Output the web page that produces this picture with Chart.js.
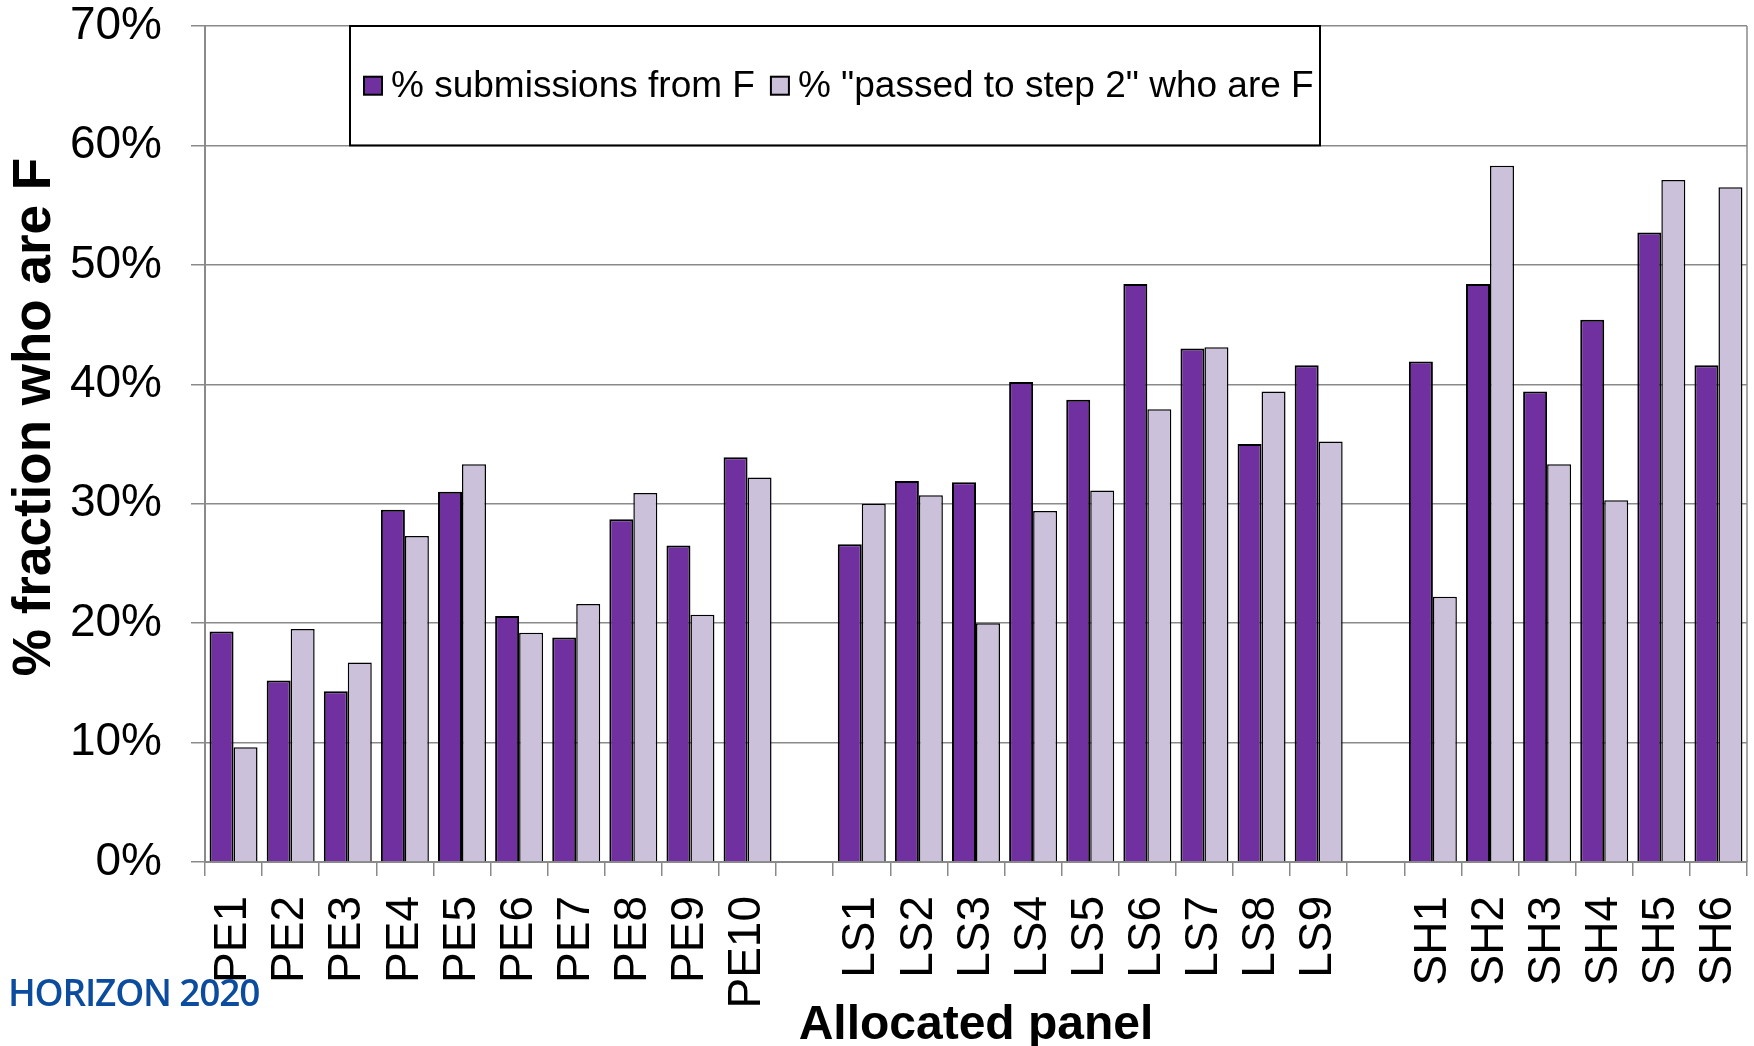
<!DOCTYPE html>
<html>
<head>
<meta charset="utf-8">
<script src="https://cdn.jsdelivr.net/npm/chart.js@4.4.1/dist/chart.umd.min.js"></script>
<style>
  html, body { margin: 0; padding: 0; background: #fff; }
  #wrap { position: relative; width: 1754px; height: 1046px; }
  #logo { position: absolute; left: 8px; top: 966px; font-family: "Open Sans", "Noto Sans", sans-serif; font-weight: 600; font-size: 37px; color: #0b4c9e; letter-spacing: -1.2px; white-space: nowrap; }
</style>
</head>
<body>
<div id="wrap">
  <canvas id="c" width="1754" height="1046"></canvas>
  <div id="logo">HORIZON 2020</div>
</div>
<script>
const categories = ['PE1','PE2','PE3','PE4','PE5','PE6','PE7','PE8','PE9','PE10','',
  'LS1','LS2','LS3','LS4','LS5','LS6','LS7','LS8','LS9','',
  'SH1','SH2','SH3','SH4','SH5','SH6'];
const submissionsF = [19.3, 15.2, 14.3, 29.5, 31.0, 20.6, 18.8, 28.7, 26.5, 33.9, null,
  26.6, 31.9, 31.8, 40.2, 38.7, 48.4, 43.0, 35.0, 41.6, null,
  41.9, 48.4, 39.4, 45.4, 52.7, 41.6];
const passedStep2F = [9.6, 19.5, 16.7, 27.3, 33.3, 19.2, 21.6, 30.9, 20.7, 32.2, null,
  30.0, 30.7, 20.0, 29.4, 31.1, 37.9, 43.1, 39.4, 35.2, null,
  22.2, 58.3, 33.3, 30.3, 57.1, 56.5];
const seriesLabels = ['% submissions from F', '% "passed to step 2" who are F'];
const yTicks = [0, 10, 20, 30, 40, 50, 60, 70];
const yTitle = '% fraction who are F';
const xTitle = 'Allocated panel';

const FONT = '"Liberation Sans", Arial, sans-serif';
const GRID = '#8a8a8a';

const boxLegend = {
  id: 'boxLegend',
  afterDraw(chart) {
    const ctx = chart.ctx;
    const ca = chart.chartArea;
    const y = chart.scales.y;
    ctx.save();
    // right border of plot area
    ctx.strokeStyle = GRID;
    ctx.lineWidth = 1.5;
    ctx.beginPath();
    ctx.moveTo(ca.right, ca.top);
    ctx.lineTo(ca.right, ca.bottom);
    ctx.stroke();
    // legend box
    const bx = ca.left + 145, bw = 970;
    const by = ca.top, bh = y.getPixelForValue(60) - ca.top;
    ctx.fillStyle = '#fff';
    ctx.fillRect(bx, by, bw, bh);
    ctx.strokeStyle = '#000';
    ctx.lineWidth = 2;
    ctx.strokeRect(bx, by, bw, bh);
    ctx.font = '37px ' + FONT;
    ctx.textBaseline = 'middle';
    ctx.textAlign = 'left';
    const cy = by + bh / 2;
    let x = bx + 14;
    chart.data.datasets.forEach((ds) => {
      const s = 18;
      ctx.fillStyle = ds.backgroundColor;
      ctx.fillRect(x, cy - s / 2, s, s);
      ctx.strokeStyle = '#000';
      ctx.lineWidth = 2;
      ctx.strokeRect(x, cy - s / 2, s, s);
      x += s + 9;
      ctx.fillStyle = '#000';
      ctx.fillText(ds.label, x, cy + 1);
      x += ctx.measureText(ds.label).width + 16;
    });
    // y axis title
    ctx.translate(35, (ca.top + ca.bottom) / 2 - 27);
    ctx.rotate(-Math.PI / 2);
    ctx.font = 'bold 53px ' + FONT;
    ctx.textAlign = 'center';
    ctx.textBaseline = 'middle';
    ctx.fillStyle = '#000';
    ctx.fillText(yTitle, 0, 0);
    ctx.restore();
  }
};

new Chart(document.getElementById('c'), {
  type: 'bar',
  data: {
    labels: categories,
    datasets: [
      { label: seriesLabels[0], data: submissionsF, backgroundColor: '#7030A0', borderColor: '#000', borderWidth: 2,
        categoryPercentage: 0.84, barPercentage: 1.0 },
      { label: seriesLabels[1], data: passedStep2F, backgroundColor: '#CCC1DA', borderColor: '#000', borderWidth: 1.5,
        categoryPercentage: 0.84, barPercentage: 1.0 }
    ]
  },
  options: {
    responsive: false,
    animation: false,
    layout: { padding: { top: 26, right: 7, left: 0, bottom: 0 } },
    plugins: {
      legend: { display: false },
      tooltip: { enabled: false }
    },
    scales: {
      x: {
        grid: { drawOnChartArea: false, drawTicks: true, tickLength: 14, color: GRID, lineWidth: 1.5, offset: true },
        border: { color: GRID, width: 2 },
        ticks: { color: '#000', font: { family: FONT, size: 46 }, minRotation: 90, maxRotation: 90, autoSkip: false, padding: 20 },
        title: { display: true, text: xTitle, color: '#000', font: { family: FONT, size: 48, weight: 'bold' }, padding: { top: 0, bottom: -9 } },
        afterFit(scale) { scale.height = 184; scale.paddingLeft = 0; scale.paddingRight = 0; }
      },
      y: {
        min: 0, max: 70,
        afterBuildTicks(scale) { scale.ticks = yTicks.map(v => ({ value: v })); },
        grid: { color: GRID, lineWidth: 1.5, tickLength: 14 },
        border: { color: GRID, width: 2 },
        ticks: { color: '#000', font: { family: FONT, size: 46 }, padding: 29, callback: v => v + '%' },
        title: { display: false },
        afterFit(scale) { scale.width = 205; scale.paddingTop = 0; scale.paddingBottom = 0; }
      }
    }
  },
  plugins: [boxLegend]
});
</script>
</body>
</html>
